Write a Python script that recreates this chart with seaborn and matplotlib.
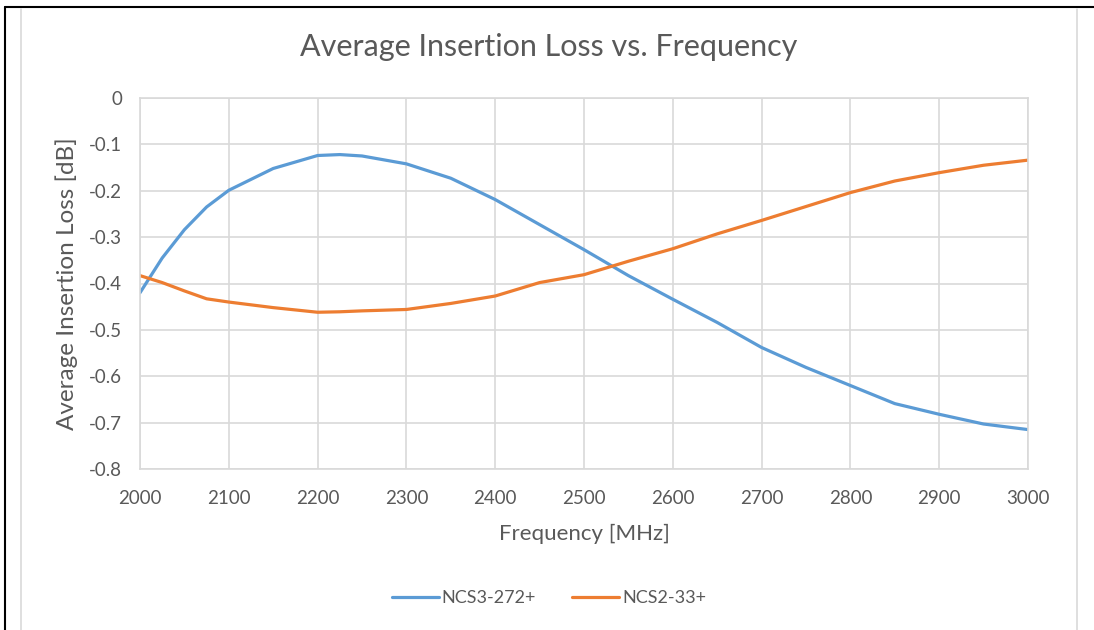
import matplotlib

matplotlib.use("Agg")

import matplotlib.pyplot as plt
import pandas as pd
import seaborn as sns
from matplotlib.lines import Line2D

# values
freq_mhz = [2000, 2025, 2050, 2075, 2100, 2150, 2200, 2225, 2250, 2300, 2350, 2400,
            2450, 2500, 2550, 2600, 2650, 2700, 2750, 2800, 2850, 2900, 2950, 3000]
ncs3_272 = [-0.420, -0.345, -0.284, -0.235, -0.199, -0.152, -0.124, -0.122, -0.125, -0.142,
            -0.173, -0.219, -0.273, -0.327, -0.383, -0.434, -0.484, -0.538, -0.581, -0.620,
            -0.659, -0.682, -0.703, -0.715]
ncs2_33 = [-0.383, -0.398, -0.416, -0.433, -0.440, -0.452, -0.462, -0.461, -0.459, -0.456,
           -0.443, -0.427, -0.398, -0.381, -0.352, -0.325, -0.293, -0.264, -0.234, -0.204,
           -0.179, -0.161, -0.145, -0.134]
series_names = ["NCS3-272+", "NCS2-33+"]
x_ticks = [2000, 2100, 2200, 2300, 2400, 2500, 2600, 2700, 2800, 2900, 3000]
y_ticks = [0, -0.1, -0.2, -0.3, -0.4, -0.5, -0.6, -0.7, -0.8]

df = pd.concat([
    pd.DataFrame({"freq": freq_mhz, "loss": ncs3_272, "part": series_names[0]}),
    pd.DataFrame({"freq": freq_mhz, "loss": ncs2_33, "part": series_names[1]}),
])

sns.set_theme(style="white")
plt.rcParams["font.family"] = ["Lato", "DejaVu Sans"]
TXT = "#595959"
GRID = "#d9d9d9"
COLORS = ["#5B9BD5", "#ED7D31"]

fig = plt.figure(figsize=(10.94, 6.3), dpi=100)
ax = fig.add_axes([140 / 1094, 1 - 469 / 630, 888 / 1094, 371 / 630])

sns.lineplot(data=df, x="freq", y="loss", hue="part", hue_order=series_names,
             palette=COLORS, linewidth=2.3, ax=ax, legend=False)

ax.set_xlim(2000, 3000)
ax.set_ylim(-0.8, 0)
ax.set_xticks(x_ticks)
ax.set_xticklabels([str(t) for t in x_ticks])
ax.set_yticks(y_ticks)
ax.set_yticklabels(["0"] + [f"{t:.1f}" for t in y_ticks[1:]])
ax.tick_params(axis="both", length=0, labelsize=13.5, colors=TXT)
ax.tick_params(axis="x", pad=15)
ax.tick_params(axis="y", pad=13)
ax.grid(True, color=GRID, linewidth=1.2)
for s in ax.spines.values():
    s.set_color(GRID)
    s.set_linewidth(1.2)
ax.set_axisbelow(True)

ax.set_xlabel("Frequency [MHz]", fontsize=16, color=TXT, labelpad=12)
ax.set_ylabel("Average Insertion Loss [dB]", fontsize=17.5, color=TXT, labelpad=8)
fig.text(549 / 1094, 1 - 47 / 630, "Average Insertion Loss vs. Frequency",
         ha="center", va="center", fontsize=22, color=TXT)

handles = [Line2D([], [], color=c, linewidth=2.3) for c in COLORS]
fig.legend(handles, series_names, loc="center", bbox_to_anchor=(549 / 1094, 1 - 598 / 630),
           ncol=2, frameon=False, fontsize=13, labelcolor=TXT, handlelength=2.6,
           handletextpad=0.15, columnspacing=2.0)

# frame lines around the chart
fig.add_artist(Line2D([5 / 1094, 5 / 1094], [0, 1 - 7 / 630], transform=fig.transFigure, color="black", linewidth=1.5))
fig.add_artist(Line2D([5 / 1094, 1], [1 - 7 / 630, 1 - 7 / 630], transform=fig.transFigure, color="black", linewidth=1.5))
fig.add_artist(Line2D([21 / 1094, 21 / 1094], [0, 1 - 9 / 630], transform=fig.transFigure, color=GRID, linewidth=1.2))
fig.add_artist(Line2D([1077 / 1094, 1077 / 1094], [0, 1 - 9 / 630], transform=fig.transFigure, color=GRID, linewidth=1.2))

fig.savefig("out.png", dpi=100)
